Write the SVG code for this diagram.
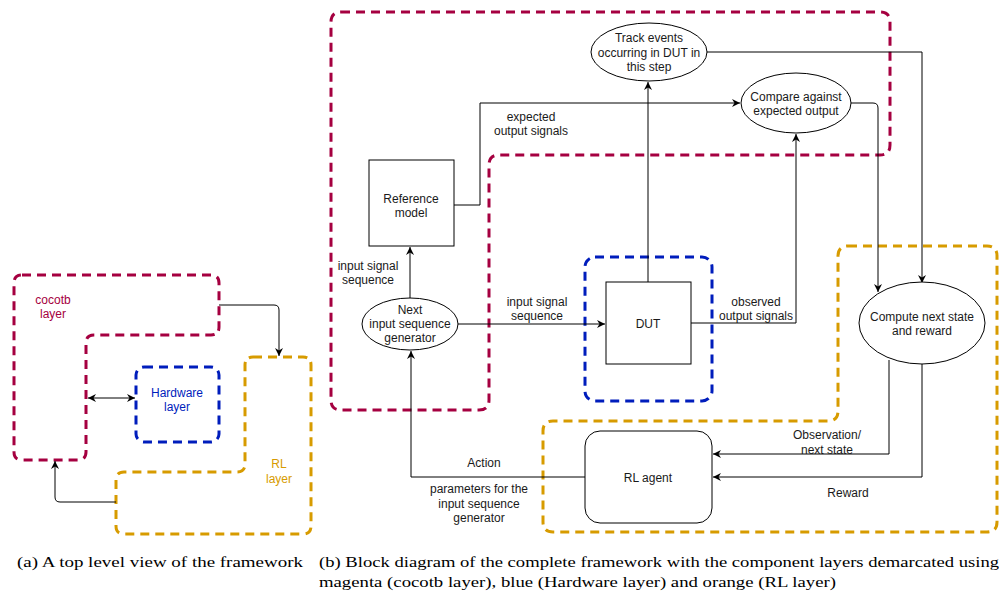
<svg xmlns="http://www.w3.org/2000/svg" width="999" height="596" viewBox="0 0 999 596">
<style>
.bg{fill:#ffffff}
.mag{fill:none;stroke:#A50040;stroke-width:3;stroke-dasharray:9 6}
.blu{fill:none;stroke:#001DBC;stroke-width:3;stroke-dasharray:9 6}
.org{fill:none;stroke:#D79B00;stroke-width:3;stroke-dasharray:9 6}
.node{fill:#ffffff;stroke:#000;stroke-width:1}
.conn{fill:none;stroke:#000;stroke-width:1}
.arr{marker-end:url(#ah)}
text{font-family:"Liberation Sans",Arial,sans-serif;font-size:12px;fill:#1a1a1a;text-anchor:middle}
.tm{fill:#A50040}
.tb{fill:#001DBC}
.to{fill:#D79B00}
.cap{font-family:"Liberation Serif","Times New Roman",serif;font-size:15px;text-anchor:start;fill:#000}
</style>
<defs>
<marker id="ah" markerUnits="userSpaceOnUse" markerWidth="10" markerHeight="10" refX="8" refY="4" orient="auto-start-reverse">
<path d="M0,0 L8,4 L0,8 L2.5,4 z" fill="#000"/>
</marker>
</defs>
<rect class="bg" x="0" y="0" width="999" height="596"/>

<!-- (a) left overview -->
<g id="a-cocotb">
<path class="mag" d="M22,275 H211 Q219,275 219,283 V327 Q219,335 211,335 H94 Q86,335 86,343 V452 Q86,460 78,460 H22 Q14,460 14,452 V283 Q14,275 22,275 Z"/>
<text class="tm" x="53" y="304">cocotb</text>
<text class="tm" x="53" y="318">layer</text>
</g>
<g id="a-hardware">
<rect class="blu" x="136" y="367" width="83" height="75" rx="8"/>
<text class="tb" x="177" y="397">Hardware</text>
<text class="tb" x="177" y="411">layer</text>
</g>
<g id="a-rl">
<path class="org" d="M253,357 H303 Q311,357 311,365 V526 Q311,534 303,534 H124 Q116,534 116,526 V480 Q116,472 124,472 H237 Q245,472 245,464 V365 Q245,357 253,357 Z"/>
<text class="to" x="279" y="468">RL</text>
<text class="to" x="279" y="483">layer</text>
</g>
<g id="a-connectors">
<path class="conn arr" d="M219,305 H274 Q279,305 279,310 V356"/>
<path class="conn arr" d="M88,398 H135" marker-start="url(#ah)"/>
<path class="conn arr" d="M116,502 H60 Q55,502 55,497 V461"/>
</g>

<!-- (b) layers -->
<g id="b-cocotb-layer">
<path class="mag" d="M341,12 H880 Q890,12 890,22 V145 Q890,155 880,155 H499 Q489,155 489,165 V400 Q489,410 479,410 H341 Q331,410 331,400 V22 Q331,12 341,12 Z"/>
</g>
<g id="b-hardware-layer">
<rect class="blu" x="585" y="257" width="127" height="144" rx="10"/>
</g>
<g id="b-rl-layer">
<path class="org" d="M848,246 H987 Q997,246 997,256 V522 Q997,532 987,532 H553 Q543,532 543,522 V431 Q543,421 553,421 H828 Q838,421 838,411 V256 Q838,246 848,246 Z"/>
</g>

<!-- connectors -->
<g id="b-connectors">
<path class="conn arr" d="M707,52 H922 V283"/>
<path class="conn arr" d="M851,103 H873 Q878,103 878,108 V292"/>
<path class="conn arr" d="M454,205 H480 V103 H740"/>
<path class="conn arr" d="M648,282 V82"/>
<path class="conn arr" d="M691,323 H796 V134"/>
<path class="conn arr" d="M410,298 V247"/>
<path class="conn arr" d="M458,324 H605"/>
<path class="conn arr" d="M889,360 V454 H713"/>
<path class="conn arr" d="M922,364 V477 H713"/>
<path class="conn arr" d="M585,477 H411 V351"/>
<text x="531" y="121">expected</text>
<text x="531" y="135">output signals</text>
<text x="368" y="270">input signal</text>
<text x="368" y="284">sequence</text>
<text x="537" y="306">input signal</text>
<text x="537" y="320">sequence</text>
<text x="756" y="306">observed</text>
<text x="756" y="320">output signals</text>
<text x="827" y="439">Observation/</text>
<text x="827" y="454">next state</text>
<text x="848" y="497">Reward</text>
<text x="484" y="467">Action</text>
<text x="479" y="493">parameters for the</text>
<text x="479" y="508">input sequence</text>
<text x="479" y="522">generator</text>
</g>

<!-- nodes -->
<g id="track-events">
<ellipse class="node" cx="649" cy="52" rx="58" ry="29"/>
<text x="649" y="42">Track events</text>
<text x="649" y="57">occurring in DUT in</text>
<text x="649" y="71">this step</text>
</g>
<g id="compare">
<ellipse class="node" cx="796" cy="103" rx="55" ry="30"/>
<text x="796" y="101">Compare against</text>
<text x="796" y="115">expected output</text>
</g>
<g id="reference-model">
<rect class="node" x="369" y="160" width="85" height="86"/>
<text x="411" y="203">Reference</text>
<text x="411" y="217">model</text>
</g>
<g id="next-input">
<ellipse class="node" cx="410" cy="324" rx="48" ry="26"/>
<text x="410" y="314">Next</text>
<text x="410" y="328">input sequence</text>
<text x="410" y="342">generator</text>
</g>
<g id="dut">
<rect class="node" x="606" y="282" width="85" height="82"/>
<text x="648" y="328">DUT</text>
</g>
<g id="compute">
<ellipse class="node" cx="922" cy="323" rx="63" ry="41"/>
<text x="922" y="321">Compute next state</text>
<text x="922" y="335">and reward</text>
</g>
<g id="rl-agent">
<rect class="node" x="585" y="431" width="127" height="92" rx="15"/>
<text x="648" y="482">RL agent</text>
</g>

<!-- captions -->
<g id="captions">
<text class="cap" x="17" y="567" textLength="286" lengthAdjust="spacingAndGlyphs">(a)  A top level view of the framework</text>
<text class="cap" x="319" y="567" textLength="680" lengthAdjust="spacingAndGlyphs">(b)  Block diagram of the complete framework with the component layers demarcated using</text>
<text class="cap" x="319" y="587" textLength="517" lengthAdjust="spacingAndGlyphs">magenta (cocotb layer), blue (Hardware layer) and orange (RL layer)</text>
</g>
</svg>
